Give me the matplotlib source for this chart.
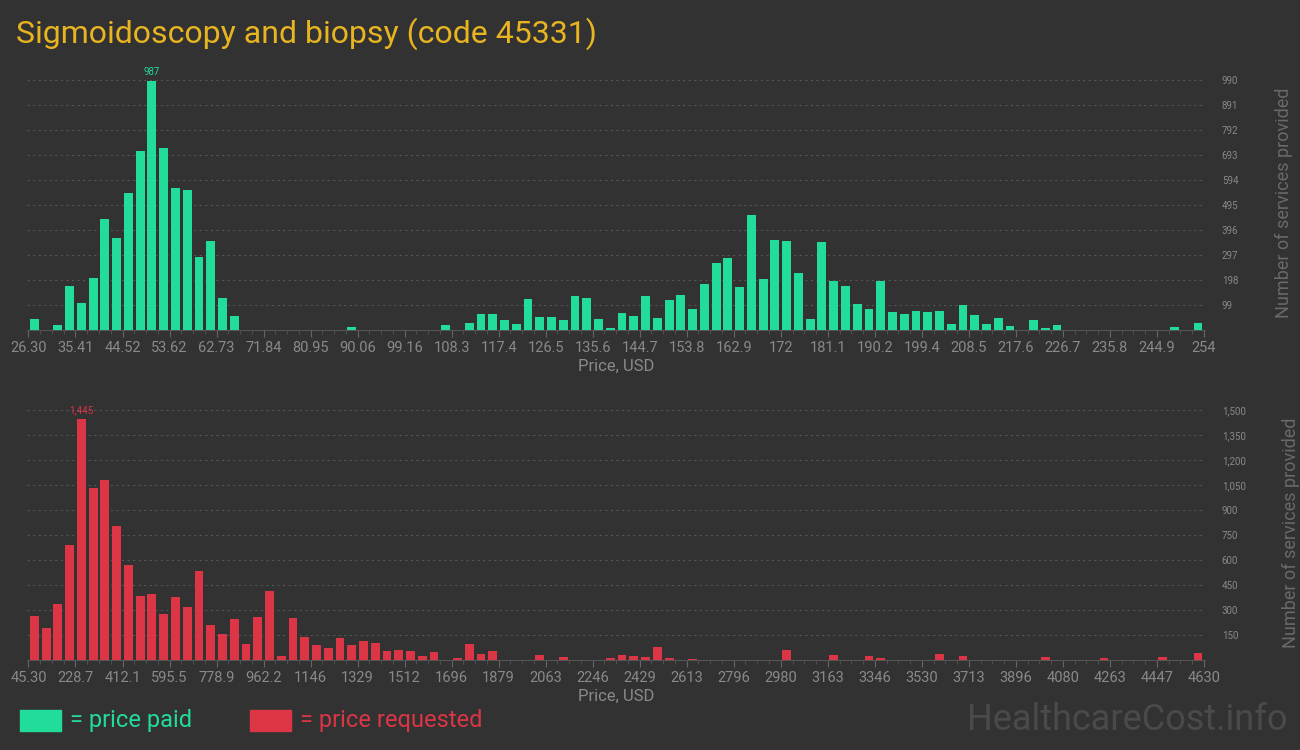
import matplotlib
matplotlib.use("Agg")
import matplotlib.pyplot as plt
from matplotlib.patches import Rectangle

# --- data
paid_counts = [44, 0, 20, 174, 107, 206, 440, 365, 543, 710,
               987, 722, 563, 555, 290, 353, 127, 56, 0, 0,
               0, 0, 0, 0, 0, 0, 0, 12, 0, 0,
               0, 0, 0, 0, 0, 20, 0, 28, 63, 63,
               40, 24, 123, 52, 52, 40, 135, 127, 44, 8,
               67, 56, 135, 48, 119, 139, 83, 182, 266, 286,
               171, 456, 202, 357, 353, 226, 44, 349, 194, 174,
               103, 83, 194, 71, 63, 75, 71, 75, 24, 99,
               59, 24, 48, 16, 0, 40, 8, 20, 0, 0,
               0, 0, 0, 0, 0, 0, 0, 12, 0, 28]
paid_ticks = ["26.30", "35.41", "44.52", "53.62", "62.73", "71.84", "80.95", "90.06", "99.16",
              "108.3", "117.4", "126.5", "135.6", "144.7", "153.8", "162.9", "172", "181.1",
              "190.2", "199.4", "208.5", "217.6", "226.7", "235.8", "244.9", "254"]
paid_yticks = [99, 198, 297, 396, 495, 594, 693, 792, 891, 990]

req_counts = [264, 192, 336, 691, 1445, 1034, 1082, 805, 571, 385,
              397, 276, 379, 318, 535, 210, 156, 246, 96, 258,
              415, 24, 252, 138, 90, 72, 132, 90, 114, 102,
              54, 60, 54, 24, 48, 0, 12, 96, 36, 54,
              0, 0, 0, 30, 0, 18, 0, 0, 0, 12,
              30, 24, 18, 78, 12, 0, 6, 0, 0, 0,
              0, 0, 0, 0, 60, 0, 0, 0, 30, 0,
              0, 24, 12, 0, 0, 0, 0, 36, 0, 24,
              0, 0, 0, 0, 0, 0, 18, 0, 0, 0,
              0, 12, 0, 0, 0, 0, 18, 0, 0, 42]
req_ticks = ["45.30", "228.7", "412.1", "595.5", "778.9", "962.2", "1146", "1329", "1512",
             "1696", "1879", "2063", "2246", "2429", "2613", "2796", "2980", "3163", "3346",
             "3530", "3713", "3896", "4080", "4263", "4447", "4630"]
req_yticks = [150, 300, 450, 600, 750, 900, 1050, 1200, 1350, 1500]

BG = "#323232"
GREEN = "#22dd99"
RED = "#dc3545"
GREY = "#8a8a8a"

plt.rcParams["font.family"] = "Roboto"

fig = plt.figure(figsize=(13, 7.5), dpi=100, facecolor=BG)


def draw(ax, counts, ticks, yticks, ymax, color, peak_label):
    ax.set_facecolor(BG)
    xs = list(range(len(counts)))
    ax.bar(xs, counts, width=0.75, color=color, zorder=3)
    ax.set_xlim(-0.6, len(counts) - 0.4)
    ax.set_ylim(0, ymax)
    for s in ["top", "left", "right"]:
        ax.spines[s].set_visible(False)
    ax.spines["bottom"].set_color("#555555")
    ax.set_xticks([i * 4 - 0.5 for i in range(len(ticks))])
    ax.set_xticklabels(ticks, fontsize=10.5, color=GREY)
    ax.set_xticks([i - 0.5 for i in range(len(counts) + 1)], minor=True)
    ax.tick_params(axis="x", which="major", length=5, color="#666666", pad=3)
    ax.tick_params(axis="x", which="minor", length=3, color="#555555")
    ax.yaxis.tick_right()
    ax.set_yticks(yticks)
    ax.set_yticklabels([f"{v:,}" for v in yticks], fontsize=7, color=GREY)
    ax.tick_params(axis="y", length=0, pad=12)
    ax.grid(axis="y", color="#555555", linestyle=(0, (2, 3)), linewidth=0.8, zorder=0)
    ax.set_xlabel("Price, USD", color=GREY, fontsize=12, labelpad=3)
    ax.yaxis.set_label_position("right")
    ax.set_ylabel("Number of services provided", color="#6a6a6a", fontsize=13,
                  labelpad=26)
    pk = counts.index(max(counts))
    ax.text(pk, max(counts) + ymax * 0.015, peak_label, color=color, fontsize=7,
            ha="center", va="bottom")


ax1 = fig.add_axes([0.021, 0.56, 0.906, 0.34])
draw(ax1, paid_counts, paid_ticks, paid_yticks, 1010, GREEN, f"{max(paid_counts)}")
ax2 = fig.add_axes([0.021, 0.12, 0.906, 0.34])
draw(ax2, req_counts, req_ticks, req_yticks, 1530, RED, f"{max(req_counts):,}")

fig.text(0.012, 0.955, "Sigmoidoscopy and biopsy (code 45331)", color="#e8b420",
         fontsize=23, va="center")

fig.patches.append(Rectangle((0.015, 0.026), 0.032, 0.028, transform=fig.transFigure,
                             color=GREEN))
fig.text(0.054, 0.04, "= price paid", color=GREEN, fontsize=17, va="center")
fig.patches.append(Rectangle((0.192, 0.026), 0.032, 0.028, transform=fig.transFigure,
                             color=RED))
fig.text(0.231, 0.04, "= price requested", color=RED, fontsize=17, va="center")
fig.text(0.99, 0.04, "HealthcareCost.info", color="#4a4a4a", fontsize=26,
         ha="right", va="center")

fig.savefig("out.png", facecolor=BG)
